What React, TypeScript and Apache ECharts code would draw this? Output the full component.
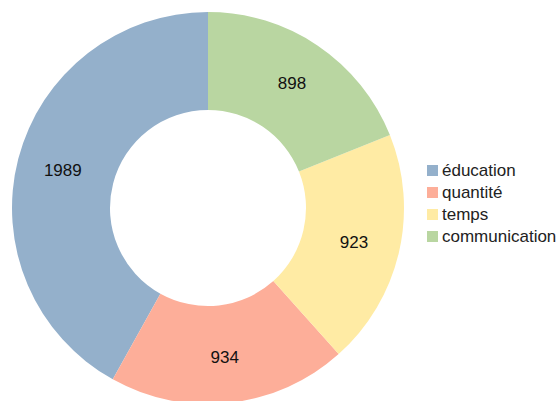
import React, { useEffect, useRef } from "react";
import * as echarts from "echarts";

const categories = ["éducation", "quantité", "temps", "communication"];
const values = [1989, 934, 923, 898];
const colors = ["#94b0cb", "#fdae99", "#ffeba4", "#b9d6a1"];

export default function App() {
  const ref = useRef<HTMLDivElement>(null);
  useEffect(() => {
    const chart = echarts.init(ref.current!, null, { renderer: "svg" });
    chart.setOption({
      animation: false,
      textStyle: { fontFamily: "Liberation Sans, Arial, sans-serif" },
      color: colors,
      legend: {
        orient: "vertical",
        left: 422,
        top: 157,
        itemWidth: 11,
        itemHeight: 11,
        itemGap: 5,
        icon: "rect",
        textStyle: { fontSize: 17, color: "#222", padding: [0, 0, 0, -1] },
        data: categories,
      },
      series: [
        {
          type: "pie",
          center: [208, 208],
          radius: [98, 196],
          startAngle: 90,
          clockwise: false,
          avoidLabelOverlap: false,
          label: {
            show: true,
            position: "inside",
            formatter: "{c}",
            fontSize: 17,
            color: "#111",
          },
          labelLine: { show: false },
          itemStyle: { borderWidth: 0 },
          emphasis: { disabled: true },
          data: categories.map((c, i) => ({ name: c, value: values[i] })),
        },
      ],
    });
    return () => chart.dispose();
  }, []);
  return <div ref={ref} style={{ width: 557, height: 401, position: "absolute", left: 0, top: 0 }} />;
}
